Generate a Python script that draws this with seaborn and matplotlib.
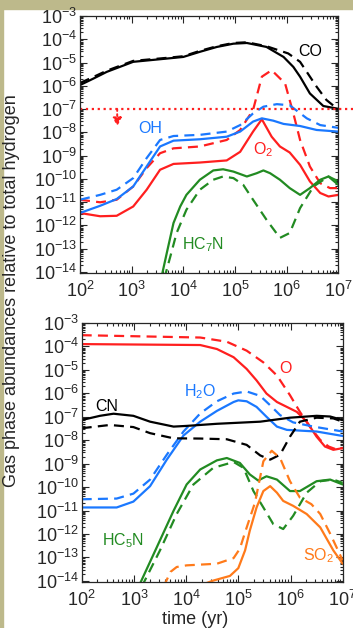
import numpy as np
import pandas as pd
import matplotlib
matplotlib.use("Agg")
import matplotlib.pyplot as plt
from matplotlib.patches import Rectangle
from matplotlib.ticker import LogLocator, NullFormatter
import seaborn as sns

# ---- data: log10(time / yr) and log10(abundance) ----
# top panel
co_t = [2.0, 2.26, 2.52, 3.03, 3.68, 4.0, 4.32, 4.65, 4.97, 5.23, 5.61, 5.94, 6.13, 6.26, 6.45, 6.71, 7.0]
co_y = [-5.97, -5.69, -5.40, -4.97, -4.83, -4.76, -4.54, -4.33, -4.19, -4.16, -4.33, -4.76, -5.19, -5.61, -6.33, -6.87, -6.99]
co_d_t = [2.0, 2.26, 2.52, 3.03, 3.68, 4.0, 4.32, 4.65, 4.97, 5.23, 5.61, 6.03, 6.26, 6.58, 6.77, 6.97, 7.0]
co_d_y = [-5.88, -5.62, -5.35, -4.93, -4.80, -4.73, -4.50, -4.30, -4.16, -4.13, -4.30, -4.61, -4.97, -6.04, -6.61, -6.97, -6.99]

o2_t = [2.0, 2.39, 2.71, 3.03, 3.29, 3.55, 3.81, 4.32, 4.84, 5.10, 5.35, 5.52, 5.71, 5.87, 6.06, 6.26, 6.45, 6.65, 6.81, 7.0]
o2_y = [-11.47, -11.61, -11.59, -11.19, -10.47, -9.61, -9.36, -9.30, -9.21, -8.84, -7.97, -7.44, -8.19, -8.61, -8.87, -9.40, -10.11, -10.61, -10.76, -10.69]
o2_d_t = [2.0, 2.39, 2.71, 3.03, 3.29, 3.55, 3.81, 4.32, 4.84, 5.10, 5.35, 5.52, 5.71, 5.97, 6.13, 6.26, 6.45, 6.65, 6.84, 7.0]
o2_d_y = [-10.9, -11.01, -10.9, -10.33, -9.54, -8.9, -8.69, -8.61, -8.33, -7.9, -7.04, -5.61, -5.33, -5.9, -7.19, -8.33, -9.47, -10.19, -10.4, -10.4]

oh_t = [2.0, 2.39, 2.71, 3.03, 3.29, 3.55, 3.81, 4.32, 4.84, 5.10, 5.35, 5.52, 5.74, 5.94, 6.26, 6.58, 7.0]
oh_y = [-11.47, -11.16, -10.87, -10.33, -9.47, -8.61, -8.36, -8.30, -8.19, -7.97, -7.54, -7.40, -7.50, -7.64, -7.73, -7.90, -7.97]
oh_d_t = [2.0, 2.39, 2.71, 3.03, 3.29, 3.55, 3.81, 4.32, 4.84, 5.10, 5.35, 5.55, 5.81, 6.06, 6.39, 6.65, 7.0]
oh_d_y = [-10.9, -10.69, -10.47, -9.97, -9.11, -8.33, -8.16, -8.11, -7.97, -7.69, -7.19, -6.90, -6.79, -6.84, -7.40, -7.69, -7.81]

hc7n_t = [3.57, 3.68, 3.81, 3.94, 4.06, 4.32, 4.58, 4.77, 4.97, 5.23, 5.42, 5.55, 5.68, 5.87, 6.06, 6.26, 6.45, 6.65, 6.81, 7.0]
hc7n_y = [-14.3, -13.19, -11.9, -11.19, -10.69, -10.04, -9.64, -9.59, -9.69, -9.9, -9.76, -9.64, -9.76, -10.04, -10.4, -10.69, -10.4, -10.04, -9.9, -10.26]
hc7n_d_t = [3.63, 3.75, 3.87, 4.06, 4.32, 4.58, 4.77, 4.97, 5.16, 5.35, 5.61, 5.87, 6.06, 6.26, 6.52, 6.81, 7.0]
hc7n_d_y = [-14.3, -13.33, -12.33, -11.33, -10.47, -10.04, -9.9, -9.97, -10.26, -10.9, -11.76, -12.54, -12.33, -11.26, -10.33, -9.9, -10.11]

# bottom panel
o_t = [2.0, 4.27, 4.59, 4.91, 5.16, 5.35, 5.54, 5.74, 5.93, 6.12, 6.31, 6.50, 6.66, 6.82, 7.0]
o_y = [-3.90, -3.94, -4.11, -4.46, -4.96, -5.45, -6.01, -6.37, -6.58, -6.79, -7.21, -7.85, -8.27, -8.41, -8.34]
o_d_t = [2.0, 4.27, 4.78, 5.16, 5.48, 5.74, 5.99, 6.18, 6.37, 6.57, 6.73, 6.85, 7.0]
o_d_y = [-3.52, -3.62, -3.80, -4.18, -4.68, -5.24, -6.08, -6.79, -7.42, -7.99, -8.27, -8.37, -8.34]

h2o_t = [2.0, 2.67, 2.99, 3.31, 3.63, 3.95, 4.27, 4.59, 4.91, 5.0, 5.16, 5.35, 5.54, 5.74, 5.93, 6.50, 7.0]
h2o_y = [-10.87, -10.87, -10.62, -9.96, -8.83, -7.80, -7.21, -6.75, -6.37, -6.30, -6.34, -6.58, -7.0, -7.42, -7.56, -7.63, -7.82]
h2o_d_t = [2.0, 2.67, 2.99, 3.31, 3.63, 3.95, 4.27, 4.59, 4.91, 5.16, 5.42, 5.61, 5.80, 6.05, 6.44, 7.0]
h2o_d_y = [-10.52, -10.49, -10.28, -9.68, -8.62, -7.63, -6.86, -6.34, -6.01, -5.92, -6.11, -6.51, -6.93, -7.24, -7.42, -7.63]

cn_t = [2.0, 2.35, 2.61, 2.99, 3.31, 3.76, 4.01, 4.59, 5.42, 5.99, 6.50, 6.76, 7.0]
cn_y = [-7.14, -6.96, -6.87, -6.96, -7.21, -7.42, -7.39, -7.30, -7.21, -7.04, -6.96, -6.99, -7.14]
cn_d_t = [2.0, 2.54, 2.99, 3.31, 3.76, 4.27, 4.78, 5.16, 5.42, 5.61, 5.80, 5.99, 6.18, 6.50, 6.82, 7.0]
cn_d_y = [-7.49, -7.35, -7.44, -7.70, -7.92, -7.93, -7.96, -8.20, -8.65, -8.83, -8.62, -7.85, -7.21, -7.04, -7.07, -7.21]

hc5n_t = [3.09, 3.44, 3.76, 4.01, 4.27, 4.59, 4.78, 5.03, 5.22, 5.38, 5.54, 5.74, 5.99, 6.18, 6.50, 6.76, 7.0]
hc5n_y = [-14.25, -12.56, -11.01, -9.89, -9.25, -8.86, -8.76, -8.97, -9.46, -9.72, -9.54, -9.68, -10.17, -10.17, -9.75, -9.68, -9.89]
hc5n_d_t = [3.15, 3.50, 3.82, 4.14, 4.52, 4.91, 5.10, 5.29, 5.48, 5.67, 5.86, 6.05, 6.31, 6.57, 6.82, 7.0]
hc5n_d_y = [-14.25, -12.70, -11.15, -9.89, -9.18, -8.93, -9.18, -10.17, -10.87, -11.58, -11.79, -11.23, -10.24, -9.75, -9.68, -9.82]

so2_t = [4.20, 4.52, 4.84, 5.0, 5.13, 5.22, 5.35, 5.48, 5.61, 5.74, 5.86, 6.05, 6.31, 6.57, 6.82, 7.0]
so2_y = [-14.25, -13.99, -13.79, -13.46, -12.70, -11.86, -10.87, -10.17, -9.96, -10.24, -10.59, -10.80, -11.15, -11.72, -12.70, -13.27]
so2_d_t = [3.57, 3.70, 3.82, 4.01, 4.59, 4.91, 5.03, 5.13, 5.32, 5.48, 5.64, 5.80, 5.99, 6.18, 6.40, 6.57, 6.76, 7.0]
so2_d_y = [-14.25, -13.62, -13.41, -13.34, -13.27, -13.03, -12.63, -11.93, -10.66, -8.90, -8.45, -8.76, -9.75, -10.45, -10.73, -11.15, -11.99, -13.13]

# labels: (text, log t, log y)
top_labels = [("CO", 6.45, -4.54), ("OH", 3.35, -7.83), ("O$_2$", 5.55, -8.76), ("HC$_7$N", 4.39, -12.83)]
bot_labels = [("O", 5.9, -4.96), ("H$_2$O", 4.27, -5.94), ("CN", 2.48, -6.58), ("HC$_5$N", 2.8, -12.28), ("SO$_2$", 6.53, -12.92)]

limit_y = -7.0      # red dotted upper limit
arrow_t = 2.72
arrow_end = -7.75

RED, BLUE, GREEN, ORANGE, BLACK = "#ff1f1f", "#1a78ff", "#228b22", "#ff7a1a", "#000000"
colors = {"CO": BLACK, "O2": RED, "OH": BLUE, "HC7N": GREEN,
          "O": RED, "H2O": BLUE, "CN": BLACK, "HC5N": GREEN, "SO2": ORANGE}
label_colors = {"CO": BLACK, "OH": BLUE, "O$_2$": RED, "HC$_7$N": GREEN,
                "O": RED, "H$_2$O": BLUE, "CN": BLACK, "HC$_5$N": GREEN, "SO$_2$": ORANGE}


def to_frame(series):
    rows = []
    for sp, run, t, y in series:
        for a, b in zip(t, y):
            rows.append({"species": sp, "run": run, "t": 10.0 ** a, "abund": 10.0 ** b})
    return pd.DataFrame(rows)


top_df = to_frame([
    ("CO", "a", co_t, co_y), ("CO", "b", co_d_t, co_d_y),
    ("O2", "a", o2_t, o2_y), ("O2", "b", o2_d_t, o2_d_y),
    ("OH", "a", oh_t, oh_y), ("OH", "b", oh_d_t, oh_d_y),
    ("HC7N", "a", hc7n_t, hc7n_y), ("HC7N", "b", hc7n_d_t, hc7n_d_y),
])
bot_df = to_frame([
    ("O", "a", o_t, o_y), ("O", "b", o_d_t, o_d_y),
    ("H2O", "a", h2o_t, h2o_y), ("H2O", "b", h2o_d_t, h2o_d_y),
    ("CN", "a", cn_t, cn_y), ("CN", "b", cn_d_t, cn_d_y),
    ("HC5N", "a", hc5n_t, hc5n_y), ("HC5N", "b", hc5n_d_t, hc5n_d_y),
    ("SO2", "a", so2_t, so2_y), ("SO2", "b", so2_d_t, so2_d_y),
])

# ---- style ----
sns.set_style("ticks")
plt.rcParams["font.family"] = ["Liberation Sans", "DejaVu Sans"]
plt.rcParams["mathtext.fontset"] = "custom"
plt.rcParams["mathtext.rm"] = "Liberation Sans"
plt.rcParams["mathtext.it"] = "Liberation Sans:italic"
plt.rcParams["mathtext.default"] = "regular"

FS = 13
fig = plt.figure(figsize=(3.53, 6.28), dpi=100)
fig.patch.set_facecolor("white")
olive = "#bdb98b"
fig.add_artist(Rectangle((0, 1 - 9 / 628), 1, 9 / 628, transform=fig.transFigure, color=olive, zorder=0))
fig.add_artist(Rectangle((0, 0), 3 / 353, 1, transform=fig.transFigure, color=olive, zorder=0))

ax1 = fig.add_axes([80 / 353, 1 - 273 / 628, 258.3 / 353, 257 / 628])
ax2 = fig.add_axes([81.7 / 353, 1 - 582 / 628, 261 / 353, 259 / 628])


def draw(ax, df, labels):
    sns.lineplot(data=df, x="t", y="abund", hue="species", style="run",
                 palette=colors, dashes={"a": "", "b": (4.5, 2.8)},
                 estimator=None, sort=True, legend=False, lw=1.6, ax=ax)
    ax.set_xscale("log")
    ax.set_yscale("log")
    ax.set_xlim(1e2, 1e7)
    ax.set_ylim(10 ** -14.05, 1e-3)
    ax.set_xticks([10.0 ** k for k in range(2, 8)])
    ax.set_yticks([10.0 ** k for k in range(-14, -2)])
    ax.xaxis.set_minor_locator(LogLocator(base=10, subs=np.arange(2, 10), numticks=20))
    ax.yaxis.set_minor_locator(LogLocator(base=10, subs=np.arange(2, 10), numticks=30))
    ax.xaxis.set_minor_formatter(NullFormatter())
    ax.yaxis.set_minor_formatter(NullFormatter())
    ax.tick_params(which="both", direction="in", top=True, right=True, labelsize=FS, width=0.8)
    ax.tick_params(which="major", length=5)
    ax.tick_params(which="minor", length=2.5)
    ax.tick_params(axis="x", pad=6)
    ax.tick_params(axis="y", pad=2)
    for s in ax.spines.values():
        s.set_linewidth(0.9)
    ax.set_xlabel("")
    ax.set_ylabel("")
    for txt, lt, ly in labels:
        ax.text(10 ** lt, 10 ** ly, txt, color=label_colors[txt], fontsize=11.5,
                ha="center", va="center")


draw(ax1, top_df, top_labels)
draw(ax2, bot_df, bot_labels)

# upper limit line and arrow on top panel
ax1.axhline(10 ** limit_y, xmin=0, xmax=1.07, color=RED, ls=":", lw=1.6, clip_on=False)
ax1.annotate("", xy=(10 ** arrow_t, 10 ** arrow_end), xytext=(10 ** arrow_t, 10 ** limit_y),
             arrowprops=dict(arrowstyle="-|>,head_length=0.5,head_width=0.25", color=RED,
                             ls=":", lw=1.4, shrinkA=0, shrinkB=0))

fig.text(195 / 353, 1 - 619 / 628, "time (yr)", ha="center", va="center", fontsize=FS)
fig.text(12 / 353, 1 - 291 / 628, "Gas phase abundances relative to total hydrogen",
         rotation=90, ha="center", va="center", fontsize=FS)

fig.savefig("out.png", dpi=100)
